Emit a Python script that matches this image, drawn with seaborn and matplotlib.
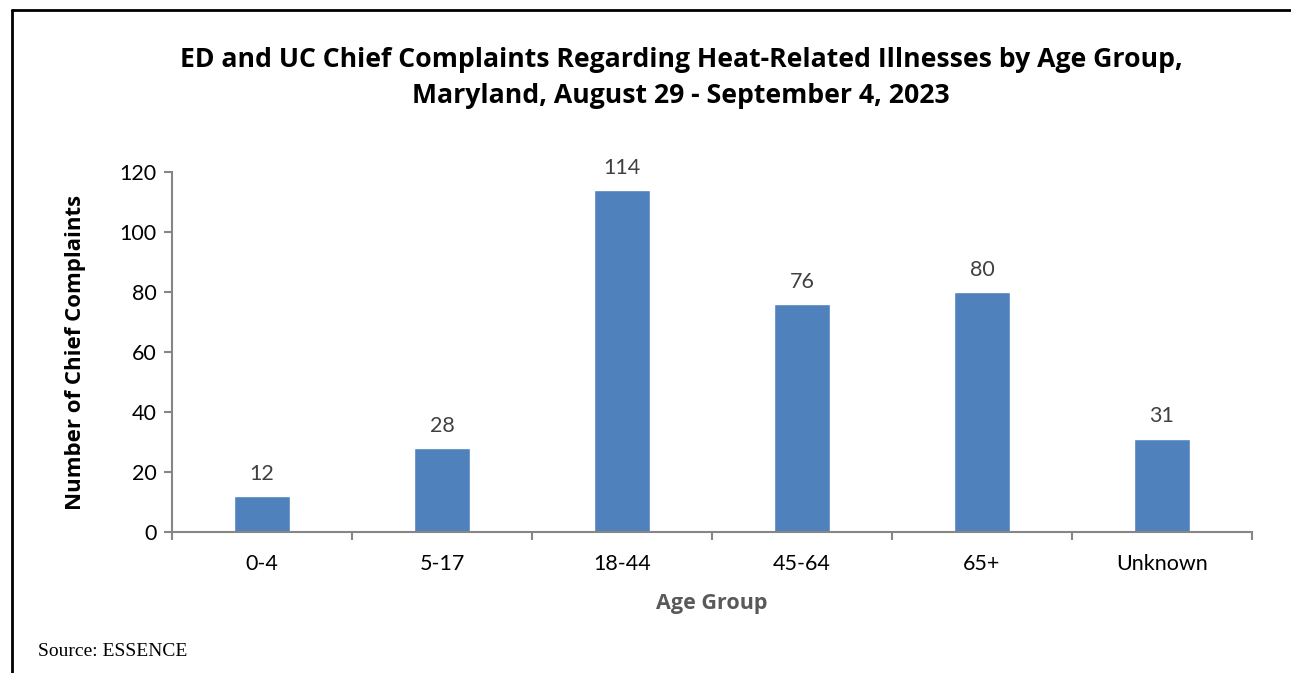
import matplotlib
matplotlib.use("Agg")
import matplotlib.pyplot as plt
import seaborn as sns
import pandas as pd

age_groups = ["0-4", "5-17", "18-44", "45-64", "65+", "Unknown"]
complaints = [12, 28, 114, 76, 80, 31]
y_ticks = [0, 20, 40, 60, 80, 100, 120]

sns.set_style("white")
plt.rcParams["font.family"] = ["Lato", "DejaVu Sans"]
BOLD = ["Open Sans", "DejaVu Sans"]

W, H = 1291, 673
fig = plt.figure(figsize=(W / 100, H / 100), dpi=100)
ax = fig.add_axes([172 / W, 1 - 532 / H, (1252 - 172) / W, (532 - 172) / H])

df = pd.DataFrame({"Age Group": age_groups, "Complaints": complaints})
sns.barplot(data=df, x="Age Group", y="Complaints", color="#4F81BD",
            saturation=1, width=0.31, ax=ax)

# data labels
for i, v in enumerate(complaints):
    ax.annotate(str(v), (i, v), xytext=(0, 9), textcoords="offset points",
                ha="center", va="bottom", fontsize=15.5, color="#404040")

ax.set_ylim(0, 120)
ax.set_xlim(-0.5, len(age_groups) - 0.5)
ax.set_yticks(y_ticks)
ax.tick_params(axis="y", left=True, length=6, width=1.5, color="#868686",
               labelsize=15.5, labelcolor="black", pad=5)
ax.tick_params(axis="x", which="major", bottom=False, labelsize=15.5,
               labelcolor="black", pad=12)
ax.set_xticks([i - 0.5 for i in range(len(age_groups) + 1)], minor=True)
ax.tick_params(axis="x", which="minor", bottom=True, length=6, width=1.5,
               color="#868686")

for side in ["top", "right"]:
    ax.spines[side].set_visible(False)
for side in ["left", "bottom"]:
    ax.spines[side].set_color("#868686")
    ax.spines[side].set_linewidth(1.5)

ax.set_xlabel("Age Group", fontsize=15.5, fontweight="bold", color="#595959",
              labelpad=14, family=BOLD)
ax.set_ylabel("Number of Chief Complaints", fontsize=16, fontweight="bold",
              color="black", labelpad=24, family=BOLD)

fig.text(681 / W, 1 - 78 / H,
         "ED and UC Chief Complaints Regarding Heat-Related Illnesses by Age Group,\n"
         "Maryland, August 29 - September 4, 2023",
         ha="center", va="center", fontsize=19.2, fontweight="bold",
         linespacing=1.5, family=BOLD, color="black")

fig.text(38 / W, 1 - 651 / H, "Source: ESSENCE", ha="left", va="center",
         fontsize=14, family=["Liberation Serif", "DejaVu Serif"], color="black")

# outer frame (top and left edges)
fig.add_artist(plt.Line2D([12 / W, 1], [1 - 10 / H, 1 - 10 / H],
                          color="black", linewidth=2, transform=fig.transFigure))
fig.add_artist(plt.Line2D([12 / W, 12 / W], [0, 1 - 10 / H],
                          color="black", linewidth=2, transform=fig.transFigure))

fig.savefig("out.png", dpi=100)
